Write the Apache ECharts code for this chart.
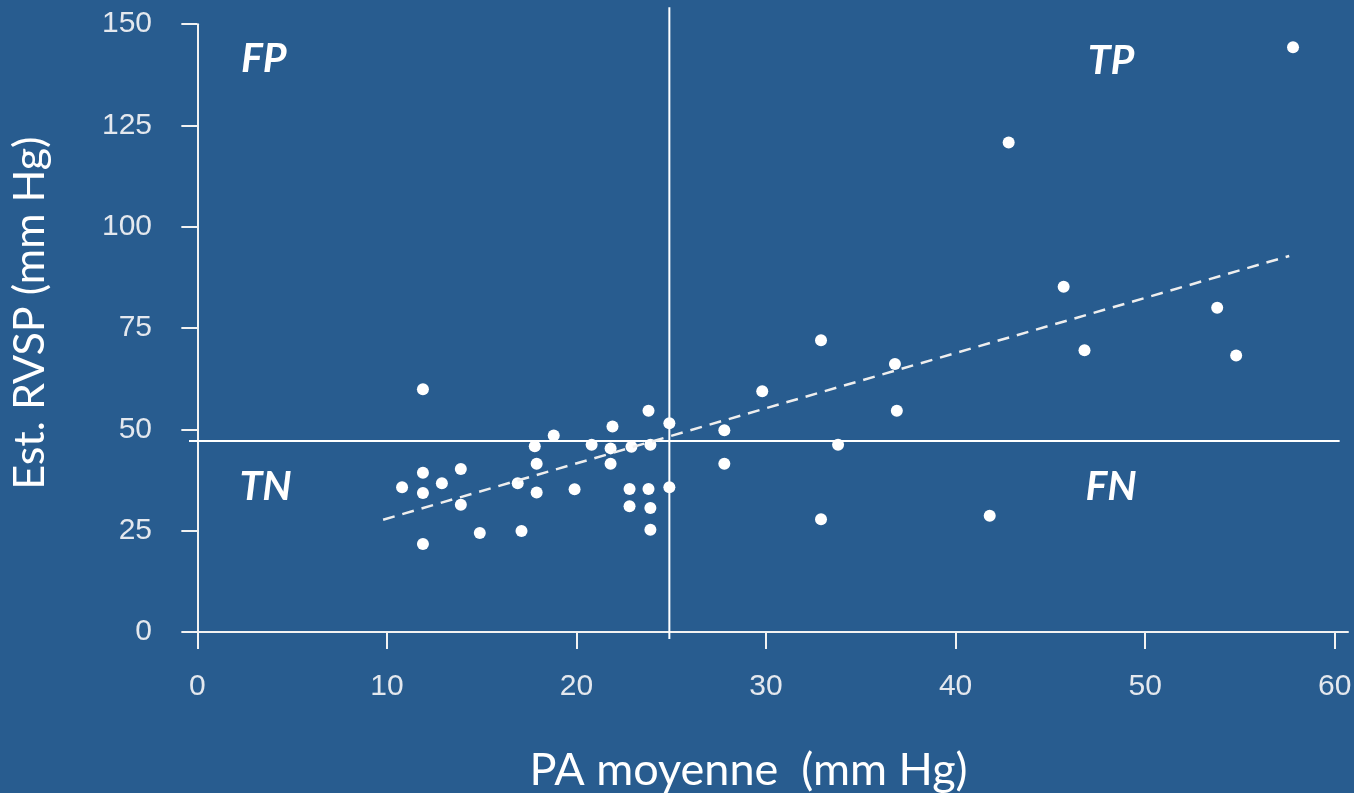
<!DOCTYPE html>
<html>
<head>
<meta charset="utf-8">
<title>Est. RVSP vs PA moyenne</title>
<script src="https://cdn.jsdelivr.net/npm/echarts@6.0.0/dist/echarts.min.js"></script>
<style>
    html, body {margin: 0; padding: 0; background: #285c8f;}
    #scatterDiagram1 {width: 1354px; height: 793px;}
</style>
</head>
<body>
<div id="scatterDiagram1"></div>
<script>
//  刻度
const xTicks = [0, 10, 20, 30, 40, 50, 60];
const yTicks = [0, 25, 50, 75, 100, 125, 150];
//  数据点
const paMoyenne = [11.9, 23.8, 24.9, 21.9, 18.8, 17.8, 20.8, 21.8, 22.9, 23.9,
    17.9, 21.8, 13.9, 11.9, 12.9, 10.8, 16.9, 11.9, 17.9, 19.9,
    22.8, 23.8, 24.9, 13.9, 22.8, 23.9, 14.9, 17.1, 23.9, 11.9,
    32.9, 36.8, 29.8, 27.8, 36.9, 33.8, 27.8, 32.9, 41.8, 42.8,
    45.7, 46.8, 53.8, 54.8, 57.8];
const estRvsp = [59.9, 54.6, 51.5, 50.7, 48.5, 45.8, 46.2, 45.3, 45.7, 46.2,
    41.5, 41.5, 40.2, 39.3, 36.7, 35.7, 36.7, 34.3, 34.4, 35.2,
    35.3, 35.3, 35.7, 31.4, 31.0, 30.6, 24.4, 24.9, 25.2, 21.7,
    72.0, 66.1, 59.4, 49.8, 54.6, 46.2, 41.5, 27.8, 28.7, 120.8,
    85.2, 69.5, 80.0, 68.2, 144.3];
//  回归线（两端）
const fitX = [9.8, 57.6];
const fitY = [27.7, 92.8];
//  阈值线
const cutoffX = 24.9;
const cutoffY = 47.1;
const cutoffYEndX = 60.26;
const cutoffXTopY = 154.2;
//  象限文字
const quadNames = ['FP', 'TP', 'TN', 'FN'];
const quadX = [3.5, 48.2, 3.6, 48.2];
const quadY = [141.4, 141.0, 35.7, 35.7];

const xMin = -0.44, xMax = 60.7;
const yMin = -1.75, yMax = 150;

const lineColor = '#f2f2f2';
const labelColor = '#e4e8ee';

const scatterOption = function () {
    return {
        backgroundColor: '#285c8f',
        animation: false,
        grid: {
            left: 189,
            top: 24.2,
            width: 1159,
            height: 614.8,
            //  不自动收缩
            outerBoundsMode: 'none',
            containLabel: false,
        },
        xAxis: {
            type: 'value',
            min: xMin,
            max: xMax,
            name: 'PA moyenne  (mm Hg)',
            nameLocation: 'middle',
            nameGap: 109,
            nameTextStyle: {
                color: '#ffffff',
                fontFamily: 'Lato',
                fontSize: 45,
                padding: [0, 40, 0, 0],
            },
            axisLine: {lineStyle: {color: lineColor, width: 2}},
            axisTick: {
                customValues: xTicks,
                length: 17,
                lineStyle: {color: lineColor, width: 2},
            },
            axisLabel: {
                customValues: xTicks,
                color: labelColor,
                fontFamily: 'Liberation Sans',
                fontSize: 30,
                margin: 33,
            },
            splitLine: {show: false},
        },
        yAxis: {
            type: 'value',
            min: yMin,
            max: yMax,
            name: 'Est. RVSP (mm Hg)',
            nameLocation: 'middle',
            nameRotate: 90,
            nameGap: 137,
            nameTextStyle: {
                color: '#ffffff',
                fontFamily: 'Lato',
                fontSize: 43,
                padding: [0, 0, 0, 37],
            },
            axisLine: {lineStyle: {color: lineColor, width: 2}},
            axisTick: {
                customValues: yTicks,
                length: 16,
                lineStyle: {color: lineColor, width: 2},
            },
            axisLabel: {
                customValues: yTicks,
                color: labelColor,
                fontFamily: 'Liberation Sans',
                fontSize: 30,
                margin: 37,
            },
            splitLine: {show: false},
        },
        series: [
            //  阈值线
            {
                type: 'line',
                clip: false,
                symbol: 'none',
                silent: true,
                data: [[xMin, cutoffY], [cutoffYEndX, cutoffY]],
                lineStyle: {color: '#ffffff', width: 2},
            },
            {
                type: 'line',
                clip: false,
                symbol: 'none',
                silent: true,
                data: [[cutoffX, yMin], [cutoffX, cutoffXTopY]],
                lineStyle: {color: '#ffffff', width: 2},
            },
            //  回归线
            {
                type: 'line',
                symbol: 'none',
                silent: true,
                data: fitX.map((x, i) => [x, fitY[i]]),
                lineStyle: {color: '#eeeeee', width: 2.5, type: [12, 8]},
            },
            //  散点
            {
                type: 'scatter',
                symbolSize: 12,
                data: paMoyenne.map((x, i) => [x, estRvsp[i]]),
                itemStyle: {color: '#ffffff', opacity: 1},
            },
            //  象限文字
            {
                type: 'scatter',
                symbolSize: 1,
                silent: true,
                data: quadNames.map((n, i) => ({name: n, value: [quadX[i], quadY[i]]})),
                itemStyle: {color: 'rgba(0,0,0,0)', opacity: 1},
                label: {
                    show: true,
                    position: 'inside',
                    formatter: '{b}',
                    color: '#ffffff',
                    opacity: 1,
                    fontFamily: 'Lato',
                    fontWeight: 'bold',
                    fontStyle: 'italic',
                    fontSize: 41,
                },
            },
        ],
    };
};

function scatterDiagram1Fn() {
    const myChart = echarts.init(document.getElementById('scatterDiagram1'));
    myChart.setOption(scatterOption());
}
scatterDiagram1Fn();
</script>
</body>
</html>
